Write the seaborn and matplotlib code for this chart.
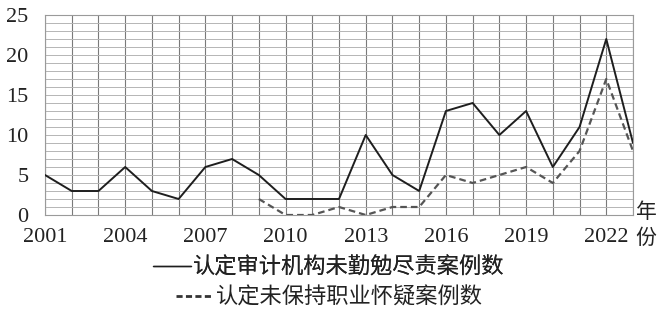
import matplotlib
matplotlib.use("Agg")
import matplotlib.pyplot as plt
from matplotlib.ticker import MultipleLocator
from matplotlib.lines import Line2D
import seaborn as sns
import pandas as pd

years_a = list(range(2001, 2024))
solid_vals = [5, 3, 3, 6, 3, 2, 6, 7, 5, 2, 2, 2, 10, 5, 3, 13, 14, 10, 13, 6, 11, 22, 9]
years_b = list(range(2009, 2024))
dashed_vals = [2, 0, 0, 1, 0, 1, 1, 5, 4, 5, 6, 4, 8, 17, 8]
xtick_labels = [2001, 2004, 2007, 2010, 2013, 2016, 2019, 2022]
ytick_labels = [0, 5, 10, 15, 20, 25]
label_a = "认定审计机构未勤勉尽责案例数"
label_b = "认定未保持职业怀疑案例数"

sns.set_theme(style="white")
plt.rcParams['font.family'] = ['Liberation Serif', 'Noto Sans CJK SC', 'DejaVu Sans']

df_a = pd.DataFrame({"year": years_a, "value": solid_vals})
df_b = pd.DataFrame({"year": years_b, "value": dashed_vals})

fig = plt.figure(figsize=(6.57, 3.12), dpi=100)
ax = fig.add_axes([45/657, 1-215/312, (633-45)/657, 200/312])

sns.lineplot(data=df_a, x="year", y="value", ax=ax, color="#1e1e1e", lw=1.4, zorder=5)
sns.lineplot(data=df_b, x="year", y="value", ax=ax, color="#555555", lw=1.6,
             linestyle=(0, (3, 1.8)), zorder=4)

ax.set_xlim(2001, 2023)
ax.set_ylim(0, 25)
ax.set_xticks(xtick_labels)
ax.set_xticklabels([str(v) for v in xtick_labels])
ax.set_yticks(ytick_labels)
ax.set_yticklabels([str(v) for v in ytick_labels])
ax.xaxis.set_minor_locator(MultipleLocator(1))
ax.yaxis.set_minor_locator(MultipleLocator(1))
ax.grid(which="both", axis="x", color="#7a7a7a", lw=0.8)
ax.grid(which="both", axis="y", color="#b5b5b5", lw=0.7)
ax.set_axisbelow(True)
for s in ax.spines.values():
    s.set_color("#9a9a9a")
    s.set_linewidth(0.8)
ax.tick_params(axis="both", which="both", length=0, labelsize=16, colors="#222222")
ax.tick_params(axis="y", pad=12)
ax.tick_params(axis="x", pad=9)
ax.set_xlabel("")
ax.set_ylabel("")

cjk = ['Noto Sans CJK SC', 'DejaVu Sans']
fig.text(646/657, 1-212/312, "年", ha="center", va="center", fontsize=15,
         family=cjk, color="#222222", fontweight="light")
fig.text(646/657, 1-238/312, "份", ha="center", va="center", fontsize=15,
         family=cjk, color="#222222", fontweight="light")

h_a = Line2D([], [], color="#1e1e1e", lw=1.0)
h_b = Line2D([], [], color="#333333", lw=2.0, linestyle=(0, (2.2, 1.2)))
prop = {'family': cjk, 'size': 16, 'weight': 'light'}
leg1 = fig.legend([h_a], [label_a], loc="center", bbox_to_anchor=(329/657, 1-267/312),
                  frameon=False, handlelength=1.7, handletextpad=0.1,
                  prop=prop, borderpad=0)
leg2 = fig.legend([h_b], [label_b], loc="center", bbox_to_anchor=(329/657, 1-297/312),
                  frameon=False, handlelength=1.7, handletextpad=0.1,
                  prop=prop, borderpad=0)
fig.add_artist(leg1)
for t in leg1.get_texts() + leg2.get_texts():
    t.set_color("#222222")

fig.savefig("out.png", dpi=100)
